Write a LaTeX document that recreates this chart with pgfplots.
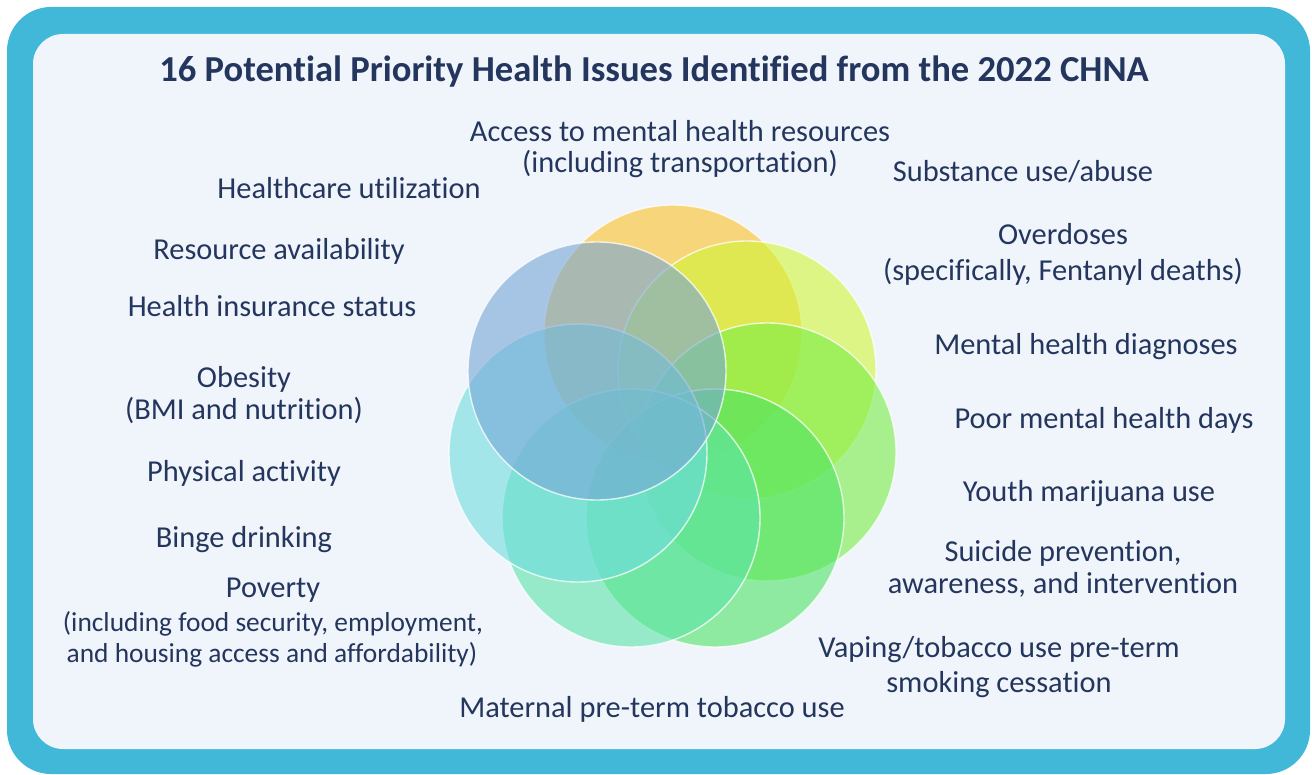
\documentclass[border=0pt]{standalone}
\usepackage{pgfplots}
\pgfplotsset{compat=1.18}
\usepackage{fontspec}
\setmainfont{Carlito}[Ligatures={NoCommon}]
\definecolor{frame}{HTML}{41B8D8}
\definecolor{panel}{HTML}{F0F5FB}
\definecolor{txt}{HTML}{24365E}
\definecolor{cOrange}{HTML}{FCC024}
\definecolor{cYel}{HTML}{D0F535}
\definecolor{cGreen}{HTML}{78ED46}
\definecolor{cGreenB}{HTML}{4EE464}
\definecolor{cTeal}{HTML}{5CE4A8}
\definecolor{cCyan}{HTML}{6EDCDF}
\definecolor{cBlue}{HTML}{76A5D6}
\tikzset{lbl/.style={text=txt, font=\fontsize{15.2}{17}\selectfont, anchor=base, inner sep=0pt},
  lbls/.style={text=txt, font=\fontsize{13.7}{16}\selectfont, anchor=base, inner sep=0pt}}
\pgfplotsset{circ/.style={only marks, mark=*, mark size=64.5pt,
    mark options={fill=#1, fill opacity=0.6, draw=white, draw opacity=0.75, line width=0.7pt}}}
\begin{document}
\begin{tikzpicture}
\begin{axis}[x=0.5pt, y=0.5pt, xmin=0, xmax=1312, ymin=0, ymax=775,
  y dir=reverse, hide axis, clip=false]
\path (axis cs:0,0) rectangle (axis cs:1312,775);
\fill[frame, rounded corners=22pt] (axis cs:7,7) rectangle (axis cs:1310,774);
\fill[panel, rounded corners=15pt] (axis cs:33,34) rectangle (axis cs:1285,749);
% circles (centres in px)
\addplot[circ=cOrange] coordinates {(673,334)};
\addplot[circ=cYel] coordinates {(747,370)};
\addplot[circ=cGreen] coordinates {(767,452)};
\addplot[circ=cGreenB] coordinates {(715,518)};
\addplot[circ=cTeal] coordinates {(631,518)};
\addplot[circ=cCyan] coordinates {(578,453)};
\addplot[circ=cBlue] coordinates {(597,371)};
% title
\node[text=txt, font=\fontsize{18.3}{22}\selectfont\bfseries, anchor=base, inner sep=0pt] at (axis cs:654,82) {16 Potential Priority Health Issues Identified from the 2022 CHNA};
% labels
\node[lbl] at (axis cs:680,142) {Access to mental health resources};
\node[lbl] at (axis cs:680,173) {(including transportation)};
\node[lbl] at (axis cs:349,199) {Healthcare utilization};
\node[lbl] at (axis cs:279,260) {Resource availability};
\node[lbl] at (axis cs:272,317) {Health insurance status};
\node[lbl] at (axis cs:244,387) {Obesity};
\node[lbl] at (axis cs:244,419) {(BMI and nutrition)};
\node[lbl] at (axis cs:244,481) {Physical activity};
\node[lbl] at (axis cs:244,547) {Binge drinking};
\node[lbl] at (axis cs:273,597) {Poverty};
\node[lbls] at (axis cs:273,631) {(including food security, employment,};
\node[lbls] at (axis cs:272,662) {and housing access and affordability)};
\node[lbl] at (axis cs:1023,182) {Substance use/abuse};
\node[lbl] at (axis cs:1063,245) {Overdoses};
\node[lbl] at (axis cs:1063,281) {(specifically, Fentanyl deaths)};
\node[lbl] at (axis cs:1086,355) {Mental health diagnoses};
\node[lbl] at (axis cs:1104,428) {Poor mental health days};
\node[lbl] at (axis cs:1089,501) {Youth marijuana use};
\node[lbl] at (axis cs:1063,561) {Suicide prevention,};
\node[lbl] at (axis cs:1063,593) {awareness, and intervention};
\node[lbl] at (axis cs:999,657) {Vaping/tobacco use pre-term};
\node[lbl] at (axis cs:999,692) {smoking cessation};
\node[lbl] at (axis cs:652,717) {Maternal pre-term tobacco use};
\end{axis}
\end{tikzpicture}
\end{document}
